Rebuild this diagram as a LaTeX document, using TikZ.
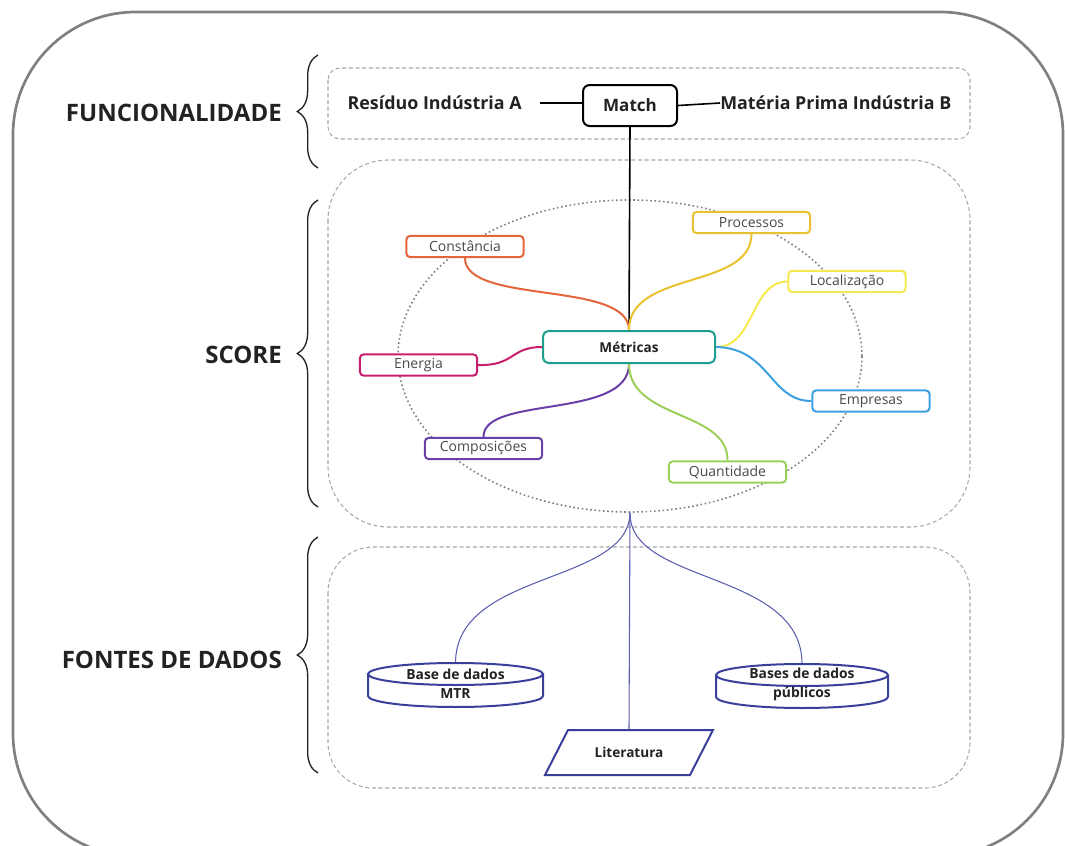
\documentclass[tikz,border=0pt]{standalone}
\usepackage{fontspec}
\setmainfont{Open Sans}
\usetikzlibrary{shapes.geometric,decorations.pathreplacing}
\definecolor{corange}{HTML}{E4643C}
\definecolor{cgold}{HTML}{EAC12E}
\definecolor{cyellow}{HTML}{F5E94F}
\definecolor{cmag}{HTML}{C81E6E}
\definecolor{cblue}{HTML}{3DA0E0}
\definecolor{cpurple}{HTML}{6B3FA8}
\definecolor{cgreen}{HTML}{9CD05A}
\definecolor{cteal}{HTML}{1E9E8C}
\definecolor{cnavy}{HTML}{5C60B0}
\definecolor{cnavyd}{HTML}{3A3F9B}
\definecolor{cframe}{HTML}{808080}
\definecolor{cdash}{HTML}{A8A8A8}
\definecolor{ctext}{HTML}{222222}
\definecolor{csmall}{HTML}{4A4A4A}
\tikzset{
  leaf/.style={draw=#1, line width=1.5pt, rounded corners=3pt, minimum width=88pt, minimum height=16pt, inner sep=0pt, font=\fontsize{10.5}{12}\selectfont, text=csmall, fill=white},
  branch/.style={draw=#1, line width=1.5pt},
  dbox/.style={draw=cdash, line width=0.8pt, dash pattern=on 3pt off 2pt},
  seclabel/.style={font=\fontsize{18}{21}\bfseries\selectfont, text=ctext, anchor=east, inner sep=0pt},
  toptext/.style={font=\fontsize{13.4}{16}\bfseries\selectfont, text=ctext},
  bracestyle/.style={draw=ctext, line width=1pt, decorate, decoration={brace, amplitude=15.5pt}},
  navyline/.style={draw=cnavy, line width=0.8pt},
  dbshape/.style={draw=cnavyd, line width=1.5pt, fill=white},
  dbtext/.style={font=\fontsize{10.4}{14.3}\bfseries\selectfont, text=ctext, align=center, inner sep=0pt},
}
\begin{document}
\begin{tikzpicture}[x=0.75pt,y=-0.75pt]
\useasboundingbox (0,0) rectangle (1065,846);
\clip (0,0) rectangle (1065,846);
% outer frame
\draw[cframe, line width=2pt, rounded corners=92pt] (13,12) rectangle (1063,856);
% dashed sections
\draw[dbox, rounded corners=9pt] (328,68) rectangle (970,139);
\draw[dbox, rounded corners=45pt] (328,160) rectangle (970,527);
\draw[dbox, rounded corners=34pt] (328,547) rectangle (970,788);
% braces and labels
\draw[bracestyle] (318,168) -- (318,55);
\draw[bracestyle] (318,507) -- (318,200);
\draw[bracestyle] (318,773) -- (318,537);
\node[seclabel] (lfun) at (282,113) {FUNCIONALIDADE};
\node[seclabel] (lsco) at (282,355) {SCORE};
\node[seclabel] (lfon) at (282,660) {FONTES DE DADOS};
% top row
\node[draw=black, line width=1.5pt, rounded corners=5pt, minimum width=70.5pt, minimum height=30.75pt, inner sep=0pt, font=\fontsize{12.8}{15}\bfseries\selectfont, text=ctext] (match) at (630,105.5) {Match};
\node[toptext, anchor=east, inner sep=0pt] (res) at (522,103) {Resíduo Indústria A};
\node[toptext, anchor=west, inner sep=0pt] (mat) at (720,103) {Matéria Prima Indústria B};
\draw[black, line width=1.2pt] (res.east) ++(18,0) coordinate (resl) -- (resl -| match.west);
\draw[black, line width=1.2pt] (match.east) -- (mat.west);
% dotted ellipse
\node[ellipse, draw=gray, line width=1.2pt, dotted, minimum width=348pt, minimum height=234pt, inner sep=0pt] (ell) at (630,356) {};
% center node
\node[draw=cteal, line width=1.5pt, rounded corners=4pt, minimum width=129pt, minimum height=24pt, inner sep=0pt, fill=white, font=\fontsize{10.2}{12}\bfseries\selectfont, text=ctext] (met) at (629,347) {Métricas};
\draw[black, line width=1.2pt] (match.south) -- (met.north);
% leaves
\node[leaf=corange] (con) at (465,246.5) {Constância};
\node[leaf=cgold] (pro) at (751.5,222.5) {Processos};
\node[leaf=cyellow] (loc) at (847,281.5) {Localização};
\node[leaf=cmag] (ene) at (418.5,365) {Energia};
\node[leaf=cblue] (emp) at (871,401) {Empresas};
\node[leaf=cpurple] (com) at (483.5,448.5) {Composições};
\node[leaf=cgreen] (qua) at (727.5,472) {Quantidade};
% branches
\draw[branch=corange] (con.south) .. controls (465,305) and (629,280) .. (met.north);
\draw[branch=cgold] (pro.south) .. controls (751,290) and (629,270) .. (met.north);
\draw[branch=cyellow] (loc.west) .. controls (750,282) and (755,347) .. (met.east);
\draw[branch=cblue] (met.east) .. controls (770,348) and (770,401) .. (emp.west);
\draw[branch=cmag] (ene.east) .. controls (515,366) and (510,347) .. (met.west);
\draw[branch=cpurple] (com.north) .. controls (483,395) and (629,420) .. (met.south);
\draw[branch=cgreen] (qua.north) .. controls (728,410) and (629,420) .. (met.south);
% data sources
\node[minimum width=131pt, minimum height=33pt, inner sep=0pt] (mtr) at (455.5,685) {};
\node[minimum width=129pt, minimum height=33pt, inner sep=0pt] (pub) at (802,686) {};
\node[minimum width=110pt, minimum height=33.75pt, inner sep=0pt] (lit) at (629,752.5) {};
\draw[navyline] (ell.south) .. controls (629,585) and (456,570) .. (mtr.north);
\draw[navyline] (ell.south) .. controls (629,585) and (802,570) .. (pub.north);
\draw[navyline] (ell.south) -- (lit.north);
% cylinders
\draw[dbshape] (368,674) -- (368,696) arc[start angle=180, end angle=0, x radius=87.5, y radius=11] -- (543,674);
\draw[dbshape] (455.5,674) ellipse[x radius=87.5, y radius=11];
\draw[dbshape] (716,675) -- (716,697) arc[start angle=180, end angle=0, x radius=86, y radius=11] -- (888,675);
\draw[dbshape] (802,675) ellipse[x radius=86, y radius=11];
\draw[dbshape, line join=miter] (568,730) -- (713,730) -- (690,775) -- (545,775) -- cycle;
\node[dbtext] (mtrt) at (455.5,683.5) {Base de dados\\MTR};
\node[dbtext] (pubt) at (802,684.5) {Bases de dados\\públicos};
\node[dbtext, font=\fontsize{10.2}{12}\bfseries\selectfont] (litt) at (lit.center) {Literatura};
\end{tikzpicture}
\end{document}
